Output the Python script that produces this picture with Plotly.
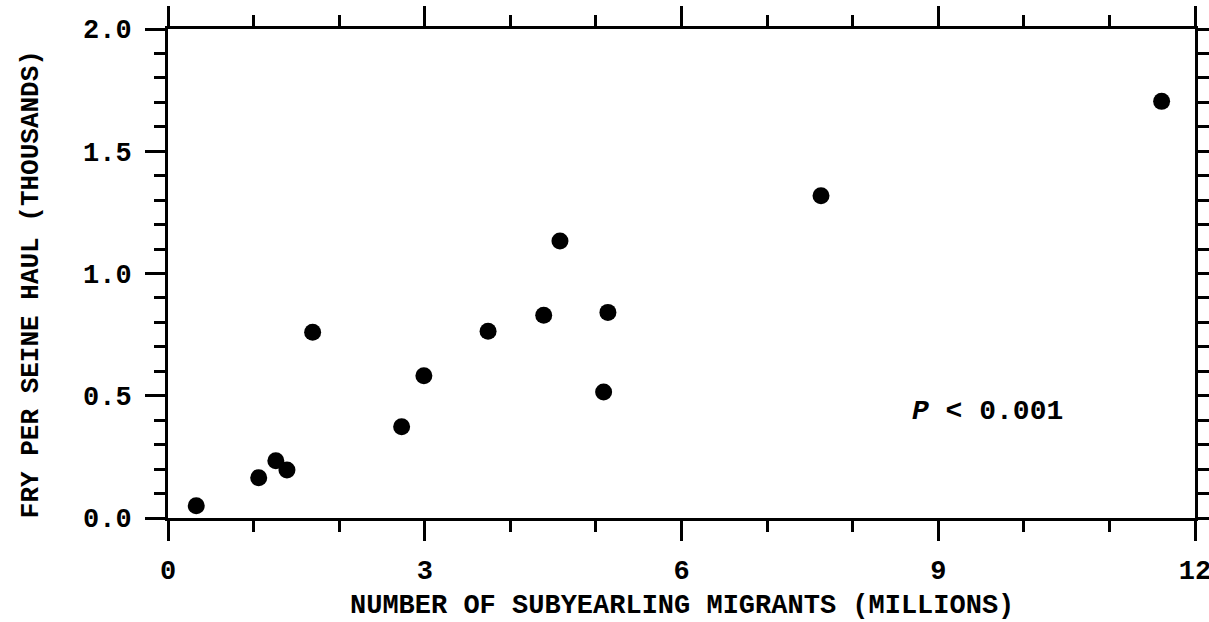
import plotly.graph_objects as go

# Data
migrants_millions = [0.33, 1.06, 1.26, 1.39, 1.69, 2.73, 2.99, 3.74, 4.39, 4.58, 5.09, 5.14, 7.63, 11.61]
fry_per_haul_thousands = [0.050, 0.165, 0.234, 0.196, 0.760, 0.373, 0.582, 0.764, 0.829, 1.133, 0.515, 0.841, 1.318, 1.704]

x_title = "NUMBER OF SUBYEARLING MIGRANTS (MILLIONS)"
y_title = "FRY PER SEINE HAUL (THOUSANDS)"
p_text = "<i>P</i> &lt; 0.001"

FONT = "Liberation Mono"
BLACK = "#000000"

fig = go.Figure()
fig.add_trace(go.Scatter(
    x=migrants_millions, y=fry_per_haul_thousands, mode="markers",
    marker=dict(size=17, color=BLACK, line=dict(width=0)),
    showlegend=False, cliponaxis=False,
))

axis_common = dict(
    showline=True, linecolor=BLACK, linewidth=3, mirror="ticks",
    ticks="outside", ticklen=20, tickwidth=3, tickcolor=BLACK,
    showgrid=False, zeroline=False, ticklabeloverflow="allow",
    tickfont=dict(family=FONT, size=27, color=BLACK, weight="bold"),
)

fig.update_xaxes(
    range=[0, 12], tickmode="linear", tick0=0, dtick=3,
    minor=dict(ticks="outside", ticklen=11, tickwidth=3, tickcolor=BLACK, dtick=1, showgrid=False),
    ticklabelstandoff=6,
    **axis_common,
)
fig.update_yaxes(
    range=[0, 2.0], tickmode="linear", tick0=0, dtick=0.5, tickformat=".1f",
    minor=dict(ticks="outside", ticklen=11, tickwidth=3, tickcolor=BLACK, dtick=0.1, showgrid=False),
    ticklabelstandoff=8,
    **axis_common,
)

fig.add_annotation(
    text=x_title, xref="paper", yref="paper", x=0.5, y=-0.18,
    xanchor="center", yanchor="middle", showarrow=False,
    font=dict(family=FONT, size=27, color=BLACK, weight="bold"),
)
fig.add_annotation(
    text=y_title, xref="paper", yref="paper", x=-0.134, y=0.479,
    xanchor="center", yanchor="middle", showarrow=False, textangle=-90,
    font=dict(family=FONT, size=26, color=BLACK, weight="bold"),
)
fig.add_annotation(
    text=p_text, xref="paper", yref="paper", x=0.798, y=0.217,
    xanchor="center", yanchor="middle", showarrow=False,
    font=dict(family=FONT, size=28, color=BLACK, weight="bold"),
)

fig.update_layout(
    width=1209, height=622,
    margin=dict(l=168, r=14, t=29, b=104, autoexpand=False),
    paper_bgcolor="white", plot_bgcolor="white",
)

fig.write_html(
    "out.html",
    config={"displayModeBar": False},
    post_script="document.body.style.margin='0';document.body.style.padding='0';",
)
